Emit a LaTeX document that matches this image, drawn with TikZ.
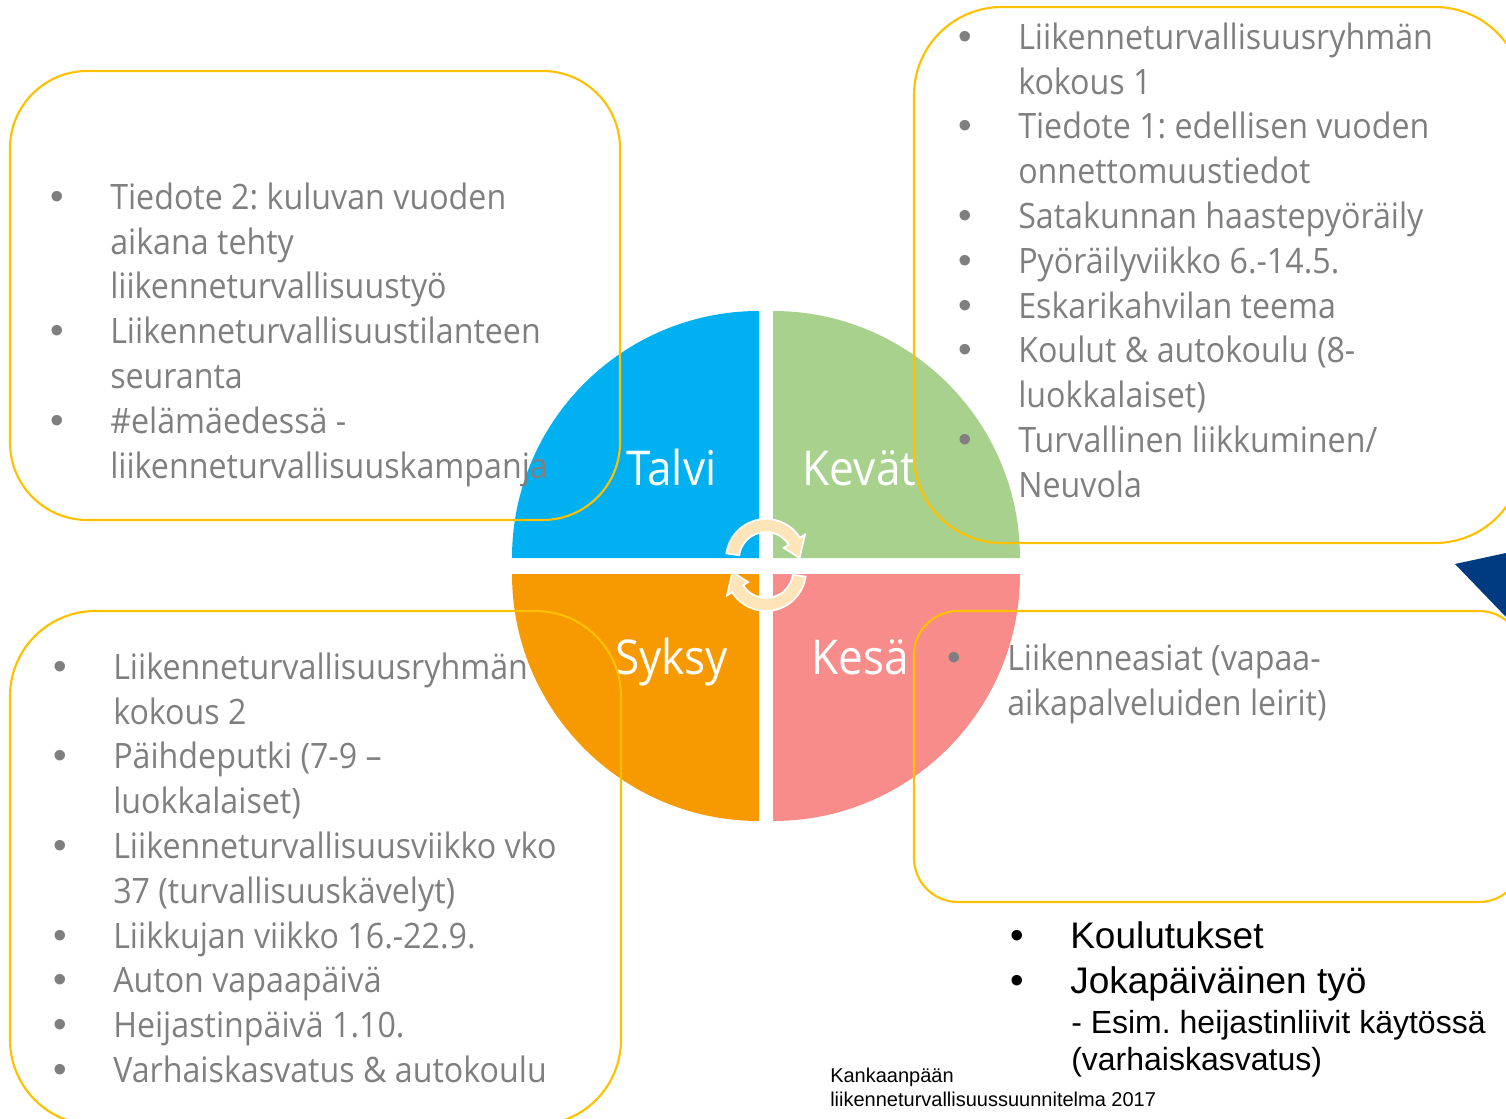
\documentclass[tikz,border=0pt]{standalone}
\usepackage{fontspec}
\setmainfont{Open Sans}[FakeStretch=0.92]
\newfontfamily\arialfont{Liberation Sans}
\usepackage{tikz}
\usetikzlibrary{calc}
\usetikzlibrary{positioning}
\frenchspacing

\definecolor{talvicol}{HTML}{00B0F0}
\definecolor{kevatcol}{HTML}{A9D18E}
\definecolor{syksycol}{HTML}{F79900}
\definecolor{kesacol}{HTML}{F88C8A}
\definecolor{boxyellow}{HTML}{FFC000}
\definecolor{txtgray}{HTML}{7F7F7F}
\definecolor{turncol}{HTML}{FDE5B9}
\definecolor{navy}{HTML}{003A80}

\newcommand{\bul}{\makebox[45pt][l]{{\arialfont\fontsize{29pt}{0pt}\selectfont •}}}
\newcommand{\ind}{\hspace*{45pt}}

\tikzset{
  season/.style = {font = \fontsize{36pt}{43pt}\selectfont, text = white, inner sep = 0, anchor = base},
  graylist/.style = {font = \fontsize{26.25pt}{33.6pt}\selectfont, text = txtgray, align = left, inner sep = 0, anchor = north west},
  blacklist/.style = {font = \arialfont\fontsize{27.75pt}{33.75pt}\selectfont, text = black, align = left, inner sep = 0, anchor = north west},
  yellowbox/.style = {draw = boxyellow, line width = 1.6pt},
  turn/.style = {fill = turncol, draw = white, line width = 1.3pt}
}

\begin{document}
\begin{tikzpicture}[x = 0.75pt, y = -0.75pt]
\useasboundingbox (0, 0) rectangle (1506, 1119);
\clip (0, 0) rectangle (1506, 1119);

% quarters of the year
\fill [talvicol] (759, 558) -- ++(180:247) arc [start angle = 180, end angle = 270, radius = 247] -- cycle;
\fill [kevatcol] (773, 558) -- ++(270:247) arc [start angle = 270, end angle = 360, radius = 247] -- cycle;
\fill [syksycol] (759, 574) -- ++(90:247) arc [start angle = 90, end angle = 180, radius = 247] -- cycle;
\fill [kesacol] (773, 574) -- ++(0:247) arc [start angle = 0, end angle = 90, radius = 247] -- cycle;

\coordinate (up) at (766, 559);
\coordinate (down) at (766, 571);
\filldraw [turn] ($(up)+(188:40)$) arc [start angle = 188, end angle = 328, radius = 40] -- ($(up)+(328:46)$) -- ($(up)+(358:33.5)$) -- ($(up)+(328:21)$) -- ($(up)+(328:27)$) arc [start angle = 328, end angle = 188, radius = 27] -- cycle;
\filldraw [turn] ($(down)+(8:40)$) arc [start angle = 8, end angle = 148, radius = 40] -- ($(down)+(148:46)$) -- ($(down)+(178:33.5)$) -- ($(down)+(148:21)$) -- ($(down)+(148:27)$) arc [start angle = 148, end angle = 8, radius = 27] -- cycle;

\node [season] (talvi) at (671.5, 485) {Talvi};
\node [season] (kevat) at (859.5, 485) {Kevät};
\node [season] (syksy) at (671.5, 674) {Syksy};
\node [season] (kesa) at (860, 674) {Kesä};

\fill [navy] (1455, 564) -- (1506, 553) -- (1506, 617) -- cycle;

\draw [yellowbox, rounded corners = 58pt] (10, 71) rectangle (620, 520);
\draw [yellowbox, rounded corners = 66pt] (914, 7) rectangle (1523, 543);
\draw [yellowbox, rounded corners = 64pt] (10, 611) rectangle (621, 1125);
\draw [yellowbox, rounded corners = 33pt] (914, 611) rectangle (1523, 902);

\node [graylist] (talvilist) at (50, 177.6) {\strut\bul Tiedote 2: kuluvan vuoden\\
  \ind aikana tehty\\
  \ind liikenneturvallisuustyö\\
  \bul Liikenneturvallisuustilanteen\\
  \ind seuranta\\
  \bul \#elämäedessä -\\
  \ind liikenneturvallisuuskampanja};
\node [graylist] (kevatlist) at (958, 17.6) {\strut\bul Liikenneturvallisuusryhmän\\
  \ind kokous 1\\
  \bul Tiedote 1: edellisen vuoden\\
  \ind onnettomuustiedot\\
  \bul Satakunnan haastepyöräily\\
  \bul Pyöräilyviikko 6.-14.5.\\
  \bul Eskarikahvilan teema\\
  \bul Koulut \& autokoulu (8-\\
  \ind luokkalaiset)\\
  \bul Turvallinen liikkuminen/\\
  \ind Neuvola};
\node [graylist] (syksylist) at (53, 647.6) {\strut\bul Liikenneturvallisuusryhmän\\
  \ind kokous 2\\
  \bul Päihdeputki (7-9 –\\
  \ind luokkalaiset)\\
  \bul Liikenneturvallisuusviikko vko\\
  \ind 37 (turvallisuuskävelyt)\\
  \bul Liikkujan viikko 16.-22.9.\\
  \bul Auton vapaapäivä\\
  \bul Heijastinpäivä 1.10.\\
  \bul Varhaiskasvatus \& autokoulu};
\node [graylist] (kesalist) at (947, 638.6) {\strut\bul Liikenneasiat (vapaa-\\
  \ind aikapalveluiden leirit)};

\node [blacklist] (yearlong) at (1010, 916.5) {\strut\bul Koulutukset\\
  \bul Jokapäiväinen työ};
\node [blacklist, font = \arialfont\fontsize{24pt}{27.75pt}\selectfont] (example) at (1071, 1007) {\strut- Esim. heijastinliivit käytössä\\
  (varhaiskasvatus)};
\node [blacklist, font = \arialfont\fontsize{15pt}{18pt}\selectfont] (source) at (830, 1065.2) {\strut Kankaanpään\\
  liikenneturvallisuussuunnitelma 2017};
\end{tikzpicture}
\end{document}
